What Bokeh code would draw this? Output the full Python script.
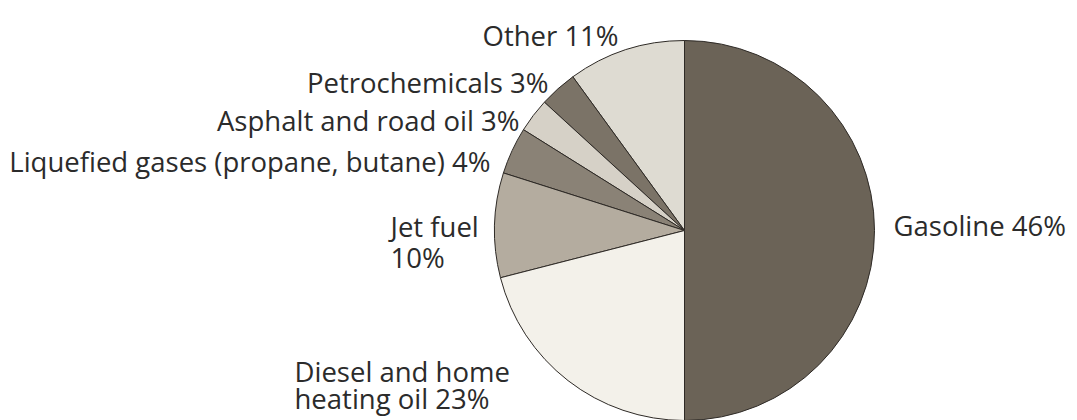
import numpy as np
from bokeh.plotting import figure
from bokeh.models import Range1d, ColumnDataSource
from bokeh.core.properties import value
from bokeh.embed import file_html
from bokeh.resources import INLINE

# Slices, counter-clockwise from 12 o'clock
categories = ["Other", "Petrochemicals", "Asphalt and road oil",
              "Liquefied gases (propane, butane)", "Jet fuel",
              "Diesel and home heating oil", "Gasoline"]
percent_labels = [11, 3, 3, 4, 10, 23, 46]              # printed values
slice_shares = [10.0, 3.2, 2.9, 4.0, 8.9, 21.0, 50.0]   # slice sizes as drawn
colors = ["#dedbd2", "#7b7367", "#d6d1c7", "#8a8276", "#b4ac9f", "#f3f1ea", "#6b6357"]

label_texts = ["Other 11%", "Petrochemicals 3%", "Asphalt and road oil 3%",
               "Liquefied gases (propane, butane) 4%", "Jet fuel\n10%",
               "Diesel and home\nheating oil 23%", "Gasoline 46%"]

W, H = 1077, 420
p = figure(width=W, height=H, output_backend="svg", toolbar_location=None,
           x_range=Range1d(0, W), y_range=Range1d(0, H),
           min_border=0, background_fill_color="white", border_fill_color="white")
p.axis.visible = False
p.grid.visible = False
p.outline_line_color = None

# geometry (data units = pixels, y measured upward from image bottom)
cx, cy, r = 684, H - 230, 190
shares = np.array(slice_shares)
ends = np.cumsum(shares) / shares.sum() * 2 * np.pi
starts = np.concatenate([[0], ends[:-1]])
src = ColumnDataSource(dict(start=starts + np.pi / 2, end=ends + np.pi / 2,
                            color=colors, cat=categories))
p.wedge(x=cx, y=cy, radius=r, start_angle="start", end_angle="end",
        fill_color="color", line_color="#2e2a26", line_width=1, source=src)

# labels: anchor x and baseline(s) in image pixels
lx = [482, 548, 519, 490, 390, 294, 893]
ly_img = [[35], [82], [120], [161], [226, 257], [371, 398], [225]]
align = ["left", "right", "right", "right", "left", "left", "left"]
tx, ty, tt, ta = [], [], [], []
for i, t in enumerate(label_texts):
    for j, ln in enumerate(t.split("\n")):
        tx.append(lx[i])
        ty.append(H - ly_img[i][j])
        tt.append(ln)
        ta.append(align[i])
tsrc = ColumnDataSource(dict(x=tx, y=ty, text=tt, align=ta))
p.text(x="x", y="y", text="text", text_align="align", text_baseline="alphabetic",
       text_font=value("Open Sans"), text_font_size="27.5px", text_color="#2b2b2b",
       source=tsrc)

open("out.html", "w").write(file_html(p, INLINE))
